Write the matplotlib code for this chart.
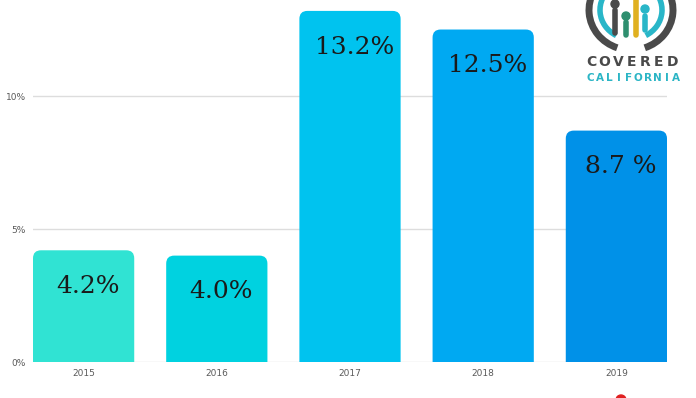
import matplotlib.pyplot as plt
from matplotlib.patches import FancyBboxPatch, Arc, Circle

years = ["2015", "2016", "2017", "2018", "2019"]
rates = [4.2, 4.0, 13.2, 12.5, 8.7]
labels = ["4.2%", "4.0%", "13.2%", "12.5%", "8.7 %"]
colors = ["#30e3d3", "#00d2e0", "#00c3ef", "#00a9f2", "#0091e8"]
yticks = [0, 5, 10]
ytick_labels = ["0%", "5%", "10%"]

fig = plt.figure(figsize=(6.96, 3.98), dpi=100)
ax = fig.add_axes([33 / 696, 36 / 398, 634 / 696, 362 / 398])

bars = ax.bar(range(len(years)), rates, width=0.76, color=colors)
# swap plain bars for ones with rounded top corners
for b, c in zip(bars, colors):
    b.set_visible(False)
    p = FancyBboxPatch((b.get_x(), -1), b.get_width(), b.get_height() + 1,
                       boxstyle="round,pad=0,rounding_size=0.06",
                       mutation_aspect=5, fc=c, ec="none", zorder=2)
    ax.add_patch(p)

for i, (v, t) in enumerate(zip(rates, labels)):
    ax.annotate(t, (i, v), xytext=(3, -26), textcoords="offset points",
                ha="center", va="center", fontsize=18, color="#1a1a1a",
                family="DejaVu Serif", zorder=3)

ax.set_xlim(-0.38, 4.38)
ax.set_ylim(0, 13.61)
ax.set_yticks(yticks)
ax.set_yticklabels(ytick_labels)
ax.set_xticks(range(len(years)))
ax.set_xticklabels(years)
ax.tick_params(length=0, labelsize=6.5, labelcolor="#5a5a5a", pad=5)
ax.grid(axis="y", color="#dddddd", linewidth=1, zorder=0)
ax.set_axisbelow(True)
for s in ax.spines.values():
    s.set_visible(False)

# logo, drawn in pixel coordinates
lg = fig.add_axes([0, 0, 1, 1], zorder=5)
lg.set_xlim(0, 696)
lg.set_ylim(398, 0)
lg.axis("off")
lg.add_patch(Arc((631, 10), 84, 80, theta1=110, theta2=240, color="#4a4a4a", lw=5))
lg.add_patch(Arc((631, 10), 84, 80, theta1=300, theta2=430, color="#4a4a4a", lw=5))
lg.add_patch(Arc((631, 10), 62, 58, theta1=120, theta2=230, color="#29b6c8", lw=4))
lg.add_patch(Arc((631, 10), 62, 58, theta1=310, theta2=420, color="#29b6c8", lw=4))
lg.plot([615, 615], [10, 33], color="#4a4a4a", lw=4, solid_capstyle="round")
lg.add_patch(Circle((615, 4), 4, color="#4a4a4a"))
lg.plot([626, 626], [22, 35], color="#2f8f6f", lw=4, solid_capstyle="round")
lg.add_patch(Circle((626, 16), 4, color="#2f8f6f"))
lg.plot([636, 636], [0, 35], color="#e0b020", lw=4, solid_capstyle="round")
lg.plot([645, 645], [16, 30], color="#29b6c8", lw=4, solid_capstyle="round")
lg.add_patch(Circle((645, 9), 4, color="#29b6c8"))
for k, ch in enumerate("COVERED"):
    lg.text(591 + k * 13.5, 62, ch, ha="center", va="center", fontsize=10,
            fontweight="bold", color="#4a4a4a")
for k, ch in enumerate("CALIFORNIA"):
    lg.text(590 + k * 9.6, 78, ch, ha="center", va="center", fontsize=7.5,
            fontweight="bold", color="#2bb5c5")
lg.add_patch(Circle((621, 400), 5, color="#e02020", clip_on=True))

fig.savefig("out.png", dpi=100)
